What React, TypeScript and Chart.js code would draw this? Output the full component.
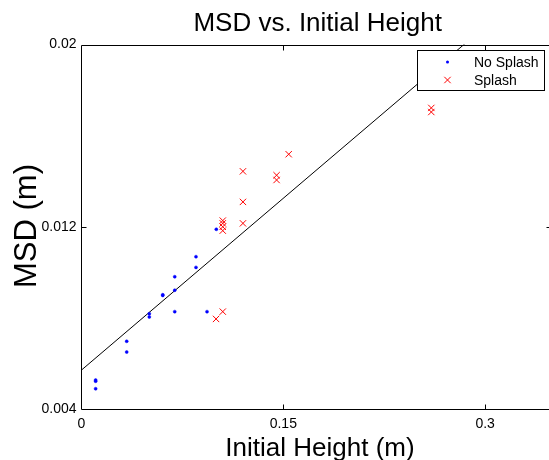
import React, { useEffect, useRef } from "react";
import { Chart, registerables } from "chart.js";

Chart.register(...registerables);

const noSplashX = [0.0105, 0.0105, 0.0105, 0.0336, 0.0336, 0.0504, 0.0504, 0.0604, 0.0604, 0.0693, 0.0693, 0.0693, 0.0851, 0.0851, 0.0933, 0.1002];
const noSplashY = [0.00529, 0.00524, 0.00491, 0.00699, 0.00652, 0.0082, 0.00806, 0.00903, 0.009, 0.00982, 0.00923, 0.00829, 0.0107, 0.01023, 0.00829, 0.0119];
const splashX = [0.1, 0.105, 0.105, 0.105, 0.105, 0.105, 0.12, 0.12, 0.12, 0.145, 0.145, 0.154, 0.26, 0.26];
const splashY = [0.00797, 0.00829, 0.01228, 0.01216, 0.01201, 0.01184, 0.01444, 0.0131, 0.01216, 0.01427, 0.01406, 0.01519, 0.01722, 0.01704];
const fitX = [0, 0.35];
const fitY = [0.00573, 0.02330];
const xTicks = [0, 0.15, 0.3];
const yTicks = [0.004, 0.012, 0.02];

const FONT = "'Liberation Sans', Arial, Helvetica, sans-serif";

const decorPlugin = {
  id: "decor",
  afterDatasetsDraw(chart: any) {
    const { ctx, chartArea: a, scales } = chart;
    ctx.save();
    // box
    ctx.strokeStyle = "#000";
    ctx.lineWidth = 1;
    const L = Math.round(a.left) - 0.5;
    const T = Math.round(a.top) + 0.5;
    const B = Math.round(a.bottom) - 0.5;
    const R = Math.round(a.right) - 0.5;
    ctx.beginPath();
    ctx.moveTo(L, T);
    ctx.lineTo(R, T);
    ctx.lineTo(R, B);
    ctx.lineTo(L, B);
    ctx.closePath();
    ctx.stroke();
    // inward ticks
    const tl = 5;
    ctx.beginPath();
    xTicks.forEach((v) => {
      const px = Math.round(scales.x.getPixelForValue(v)) + 0.5;
      if (v === 0) return;
      ctx.moveTo(px, B);
      ctx.lineTo(px, B - tl);
      ctx.moveTo(px, T);
      ctx.lineTo(px, T + tl);
    });
    yTicks.forEach((v) => {
      const py = Math.round(scales.y.getPixelForValue(v)) + 0.5;
      if (v === 0.004 || v === 0.02) return;
      ctx.moveTo(L, py);
      ctx.lineTo(L + tl, py);
      ctx.moveTo(R, py);
      ctx.lineTo(R - tl, py);
    });
    ctx.stroke();

    // legend
    const ds = chart.data.datasets;
    ctx.fillStyle = "#fff";
    ctx.fillRect(417.5, 50.5, 127, 40);
    ctx.strokeRect(417.5, 50.5, 127, 40);
    ctx.font = `14px ${FONT}`;
    ctx.textAlign = "left";
    ctx.textBaseline = "alphabetic";
    ctx.fillStyle = "#000";
    ctx.fillText(ds[0].label, 474, 67);
    ctx.fillText(ds[1].label, 474, 84.5);
    ctx.fillStyle = ds[0].backgroundColor;
    ctx.beginPath();
    ctx.arc(447.5, 62, 1.5, 0, Math.PI * 2);
    ctx.fill();
    ctx.strokeStyle = ds[1].borderColor;
    const r = 3.2;
    ctx.beginPath();
    ctx.moveTo(447.5 - r, 80 - r);
    ctx.lineTo(447.5 + r, 80 + r);
    ctx.moveTo(447.5 - r, 80 + r);
    ctx.lineTo(447.5 + r, 80 - r);
    ctx.stroke();

    // titles
    ctx.fillStyle = "#000";
    ctx.textAlign = "center";
    ctx.font = `26px ${FONT}`;
    ctx.fillText("MSD vs. Initial Height", 317.7, 30.8);
    ctx.fillText("Initial Height (m)", 320, 455.8);
    ctx.save();
    ctx.translate(35.5, 226);
    ctx.rotate(-Math.PI / 2);
    ctx.font = `31px ${FONT}`;
    ctx.fillText("MSD (m)", 0, 0);
    ctx.restore();
    ctx.restore();
  },
};

export default function App() {
  const ref = useRef<HTMLCanvasElement | null>(null);
  useEffect(() => {
    if (!ref.current) return;
    const chart = new Chart(ref.current, {
      type: "scatter",
      data: {
        datasets: [
          {
            label: "No Splash",
            data: noSplashX.map((x, i) => ({ x, y: noSplashY[i] })),
            pointStyle: "circle",
            pointRadius: 1.5,
            backgroundColor: "#0000ff",
            borderColor: "#0000ff",
            borderWidth: 0.5,
          },
          {
            label: "Splash",
            data: splashX.map((x, i) => ({ x, y: splashY[i] })),
            pointStyle: "crossRot",
            pointRadius: 4.5,
            backgroundColor: "#ff0000",
            borderColor: "#ff0000",
            borderWidth: 1,
          },
          {
            label: "Fit",
            data: fitX.map((x, i) => ({ x, y: fitY[i] })),
            showLine: true,
            pointRadius: 0,
            borderColor: "#000",
            borderWidth: 1,
            backgroundColor: "#000",
          } as any,
        ],
      },
      options: {
        responsive: false,
        animation: false,
        devicePixelRatio: 1,
        layout: { padding: { top: 44.5, right: 560 - 552.4, left: 0, bottom: 0 } },
        plugins: {
          legend: { display: false },
          title: { display: false },
          tooltip: { enabled: false },
        },
        scales: {
          x: {
            type: "linear",
            min: 0,
            max: 0.35,
            afterBuildTicks: (s: any) => {
              s.ticks = xTicks.map((v) => ({ value: v }));
            },
            afterFit: (s: any) => {
              s.height = 50.5;
            },
            grid: { display: false, drawTicks: false },
            border: { display: false },
            ticks: {
              padding: 6,
              color: "#000",
              font: { family: FONT, size: 14 },
              autoSkip: false,
              maxRotation: 0,
              callback: (v: any) => String(v),
            },
          },
          y: {
            type: "linear",
            min: 0.004,
            max: 0.02,
            afterBuildTicks: (s: any) => {
              s.ticks = yTicks.map((v) => ({ value: v }));
            },
            afterFit: (s: any) => {
              s.width = 81.5;
            },
            grid: { display: false, drawTicks: false },
            border: { display: false },
            ticks: {
              padding: 5,
              color: "#000",
              font: { family: FONT, size: 14 },
              autoSkip: false,
              callback: (v: any) => String(v),
            },
          },
        },
      },
      plugins: [decorPlugin],
    });
    return () => chart.destroy();
  }, []);
  return (
    <div style={{ position: "fixed", left: 0, top: 0, width: 549, height: 460, overflow: "hidden", background: "#fff" }}>
      <canvas ref={ref} width={560} height={460} style={{ display: "block" }} />
    </div>
  );
}
